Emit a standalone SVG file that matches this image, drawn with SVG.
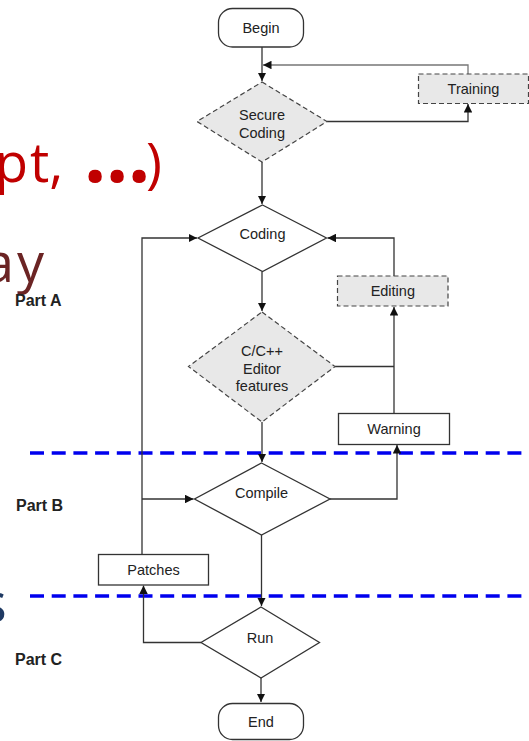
<svg xmlns="http://www.w3.org/2000/svg" width="529" height="741" viewBox="0 0 529 741">
  <style>
    .bg-text { font-family: "Open Sans", "Liberation Sans", sans-serif; font-size: 54px; }
    .dot { font-size: 78px; font-weight: bold; }
    .node { stroke: #333; stroke-width: 1.3; fill: #fff; }
    .soft { stroke: #444; stroke-width: 1.2; fill: #e8e8e8; stroke-dasharray: 5 3; }
    .label { font-family: "Liberation Sans", Arial, sans-serif; font-size: 14.5px; fill: #222; text-anchor: middle; }
    .part { font-family: "Liberation Sans", Arial, sans-serif; font-size: 16px; font-weight: bold; fill: #222; }
    .wire { fill: none; stroke: #333; stroke-width: 1.3; }
    .wire.faint { stroke: #777; }
    .divider { stroke: #0000ee; stroke-width: 3.5; stroke-dasharray: 14 7.7; }
  </style>
  <defs>
    <marker id="arrow" viewBox="0 0 10 10" refX="10" refY="5" markerWidth="8.5" markerHeight="8.5" markerUnits="userSpaceOnUse" orient="auto">
      <path d="M0,0 L10,5 L0,10 Z" fill="#111"/>
    </marker>
  </defs>

  <rect width="529" height="741" fill="#fff"/>

  <!-- slide text fragments behind the chart -->
  <g id="slide-text">
    <text class="bg-text" fill="#c00000" y="182"><tspan x="-5">p</tspan><tspan x="30">t,</tspan><tspan class="dot" x="84">.</tspan><tspan class="dot" x="106">.</tspan><tspan class="dot" x="128">.</tspan><tspan x="146">)</tspan></text>
    <text class="bg-text" fill="#6b2424" y="282" x="-16 17">ay</text>
    <text class="bg-text" fill="#1f3a63" y="622" x="-19">s</text>
  </g>

  <!-- phase dividers -->
  <g id="dividers">
    <line class="divider" x1="30" y1="453" x2="529" y2="453"/>
    <line class="divider" x1="30" y1="596" x2="529" y2="596"/>
  </g>

  <g id="parts">
    <text class="part" x="15" y="306">Part A</text>
    <text class="part" x="16" y="511">Part B</text>
    <text class="part" x="15" y="665">Part C</text>
  </g>

  <g id="connectors">
    <path class="wire" d="M262,47 V81" marker-end="url(#arrow)"/>
    <path class="wire faint" d="M468,74 V65 H263" marker-end="url(#arrow)"/>
    <path class="wire" d="M327,121.5 H468 V104" marker-end="url(#arrow)"/>
    <path class="wire" d="M262,162 V204" marker-end="url(#arrow)"/>
    <path class="wire" d="M262,271.5 V311" marker-end="url(#arrow)"/>
    <path class="wire" d="M262,422 V462" marker-end="url(#arrow)"/>
    <path class="wire" d="M261.5,535 V606" marker-end="url(#arrow)"/>
    <path class="wire" d="M261,678 V702" marker-end="url(#arrow)"/>
    <path class="wire" d="M142,554.5 V238 H197" marker-end="url(#arrow)"/>
    <path class="wire" d="M142,499 H193.5" marker-end="url(#arrow)"/>
    <path class="wire" d="M201,642.5 H143.5 V585.5" marker-end="url(#arrow)"/>
    <path class="wire" d="M330,499 H397 V445" marker-end="url(#arrow)"/>
    <path class="wire" d="M394,413.5 V307" marker-end="url(#arrow)"/>
    <path class="wire" d="M335,366.5 H394"/>
    <path class="wire" d="M394,276 V238 H327.5" marker-end="url(#arrow)"/>
  </g>

  <g id="begin">
    <rect class="node" x="218.5" y="8.5" width="85" height="38.5" rx="14"/>
    <text class="label" x="261" y="33">Begin</text>
  </g>

  <g id="secure-coding">
    <polygon class="soft" points="262,82 327,121.5 262,162 197,121.5"/>
    <text class="label" x="262" y="120">Secure</text>
    <text class="label" x="262" y="138">Coding</text>
  </g>

  <g id="training">
    <rect class="soft" x="418.5" y="74" width="110" height="29.5"/>
    <text class="label" x="473.5" y="94">Training</text>
  </g>

  <g id="coding">
    <polygon class="node" points="262.5,205 326.5,238 262.5,271.5 198,238"/>
    <text class="label" x="262.5" y="239">Coding</text>
  </g>

  <g id="editing">
    <rect class="soft" x="337.5" y="276" width="110.5" height="30"/>
    <text class="label" x="392.8" y="296">Editing</text>
  </g>

  <g id="editor-features">
    <polygon class="soft" points="262,312 335,366.5 262,422 188.5,366.5"/>
    <text class="label" x="262" y="356">C/C++</text>
    <text class="label" x="262" y="373.5">Editor</text>
    <text class="label" x="262" y="391">features</text>
  </g>

  <g id="warning">
    <rect class="node" x="338.5" y="413.5" width="111" height="31"/>
    <text class="label" x="394" y="434.3">Warning</text>
  </g>

  <g id="compile">
    <polygon class="node" points="261.5,463 330,499 261.5,535 194.5,499"/>
    <text class="label" x="261.5" y="498">Compile</text>
  </g>

  <g id="patches">
    <rect class="node" x="98.5" y="554.5" width="110" height="30.5"/>
    <text class="label" x="153.5" y="575">Patches</text>
  </g>

  <g id="run">
    <polygon class="node" points="261,607 319.5,642.5 261,678 201,642.5"/>
    <text class="label" x="260" y="642.5">Run</text>
  </g>

  <g id="end">
    <rect class="node" x="218.5" y="703.5" width="85" height="36" rx="14"/>
    <text class="label" x="261" y="727">End</text>
  </g>
</svg>
